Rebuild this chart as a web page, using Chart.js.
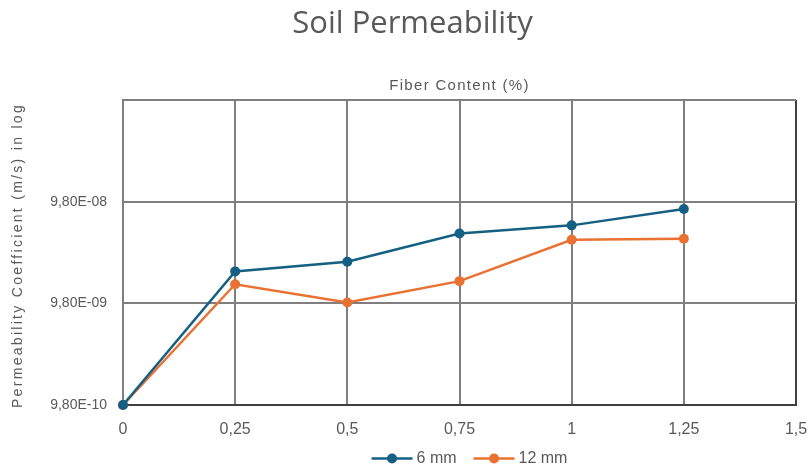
<!DOCTYPE html>
<html>
<head>
<meta charset="utf-8">
<script src="https://cdn.jsdelivr.net/npm/chart.js@4"></script>
<style>
  html, body { margin: 0; padding: 0; background: #fff; }
</style>
</head>
<body>
<canvas id="permChart" width="809" height="465"></canvas>
<script>
const fiberContent = [0, 0.25, 0.5, 0.75, 1, 1.25];
const perm6mm = [9.8e-10, 2.02e-8, 2.51e-8, 4.76e-8, 5.73e-8, 8.31e-8];
const perm12mm = [9.8e-10, 1.51e-8, 1.0e-8, 1.62e-8, 4.13e-8, 4.23e-8];
const xTickValues = [0, 0.25, 0.5, 0.75, 1, 1.25, 1.5];
const yTickValues = [9.8e-10, 9.8e-9, 9.8e-8, 9.8e-7];
const seriesNames = ["6 mm", "12 mm"];
const seriesColors = ["#156082", "#E97132"];
const chartTitle = "Soil Permeability";
const xTitle = "Fiber Content (%)";
const yTitle = "Permeability Coefficient (m/s) in log";

const GRID = "#7f7f7f";
const AXIS = "#404040";
const TEXT = "#595959";

// "9,80E-08" style labels
function sciLabel(v) {
    const parts = v.toExponential(2).split("e");
    const n = parseInt(parts[1], 10);
    return parts[0].replace(".", ",") + "E" + (n < 0 ? "-" : "+") + String(Math.abs(n)).padStart(2, "0");
}

// axis titles (letter spaced) and the line+dot legend
const extrasPlugin = {
    id: "extras",
    afterDraw(chart) {
        const { ctx, chartArea: a } = chart;
        ctx.save();
        ctx.fillStyle = TEXT;
        ctx.textAlign = "center";

        ctx.font = "15px 'Liberation Sans'";
        ctx.letterSpacing = "1.3px";
        ctx.textBaseline = "alphabetic";
        ctx.fillText(xTitle, (a.left + a.right) / 2, a.top - 10);

        ctx.save();
        ctx.translate(18, (a.top + a.bottom) / 2 + 3);
        ctx.rotate(-Math.PI / 2);
        ctx.font = "14px 'Liberation Sans'";
        ctx.letterSpacing = "2.3px";
        ctx.textBaseline = "middle";
        ctx.fillText(yTitle, 0, 0);
        ctx.restore();

        // legend
        ctx.letterSpacing = "0px";
        ctx.font = "16px 'Liberation Sans'";
        ctx.textAlign = "left";
        ctx.textBaseline = "middle";
        const items = chart.data.datasets.map(ds => ({
            ds,
            w: 41 + 4 + ctx.measureText(ds.label).width,
        }));
        const total = items.reduce((s, it) => s + it.w, 0) + 17 * (items.length - 1);
        let x = (a.left + a.right) / 2 + 10 - total / 2;
        const y = 458.5;
        items.forEach(it => {
            ctx.strokeStyle = it.ds.borderColor;
            ctx.lineWidth = 2.5;
            ctx.beginPath();
            ctx.moveTo(x, y);
            ctx.lineTo(x + 41, y);
            ctx.stroke();
            ctx.fillStyle = it.ds.backgroundColor;
            ctx.beginPath();
            ctx.arc(x + 20.5, y, 5, 0, Math.PI * 2);
            ctx.fill();
            ctx.fillStyle = TEXT;
            ctx.fillText(it.ds.label, x + 45, y);
            x += it.w + 17;
        });
        ctx.restore();
    },
};

const toPoints = vals => vals.map((v, i) => ({ x: fiberContent[i], y: v }));

new Chart(document.getElementById("permChart").getContext("2d"), {
    type: "line",
    data: {
        datasets: [perm6mm, perm12mm].map((vals, i) => ({
            label: seriesNames[i],
            data: toPoints(vals),
            borderColor: seriesColors[i],
            backgroundColor: seriesColors[i],
            borderWidth: 2.5,
            pointRadius: 5,
            pointBorderWidth: 0,
            tension: 0,
            clip: false,
        })),
    },
    options: {
        responsive: false,
        animation: false,
        layout: { padding: { left: 29, right: 13, top: 0, bottom: 0 } },
        plugins: {
            title: {
                display: true,
                text: chartTitle,
                color: TEXT,
                font: { family: "Open Sans", size: 31, weight: "normal" },
                padding: { top: 6, bottom: 100 - 6 - 31 * 1.2 },
            },
            legend: { display: false },
            tooltip: { enabled: false },
        },
        scales: {
            x: {
                type: "linear",
                position: "bottom",
                min: 0,
                max: 1.5,
                afterBuildTicks: s => { s.ticks = xTickValues.map(v => ({ value: v })); },
                afterFit: s => { s.height = 60; s.paddingLeft = 0; s.paddingRight = 0; },
                ticks: {
                    color: TEXT,
                    font: { family: "Liberation Sans", size: 16 },
                    padding: 15,
                    maxRotation: 0,
                    callback: v => String(v).replace(".", ","),
                },
                grid: {
                    drawTicks: false,
                    lineWidth: 2,
                    color: c => (c.tick && c.tick.value === 1.5 ? AXIS : GRID),
                },
                border: { color: AXIS, width: 2 },
            },
            y: {
                type: "logarithmic",
                min: yTickValues[0],
                max: yTickValues[yTickValues.length - 1],
                afterBuildTicks: s => { s.ticks = yTickValues.map(v => ({ value: v })); },
                afterFit: s => { s.width = 94; },
                ticks: {
                    color: TEXT,
                    font: { family: "Liberation Sans", size: 14 },
                    padding: 16,
                    callback: (v, i) => (i === yTickValues.length - 1 ? "" : sciLabel(v)),
                },
                grid: { drawTicks: false, lineWidth: 2, color: GRID },
                border: { color: GRID, width: 2 },
            },
        },
    },
    plugins: [extrasPlugin],
});
</script>
</body>
</html>
